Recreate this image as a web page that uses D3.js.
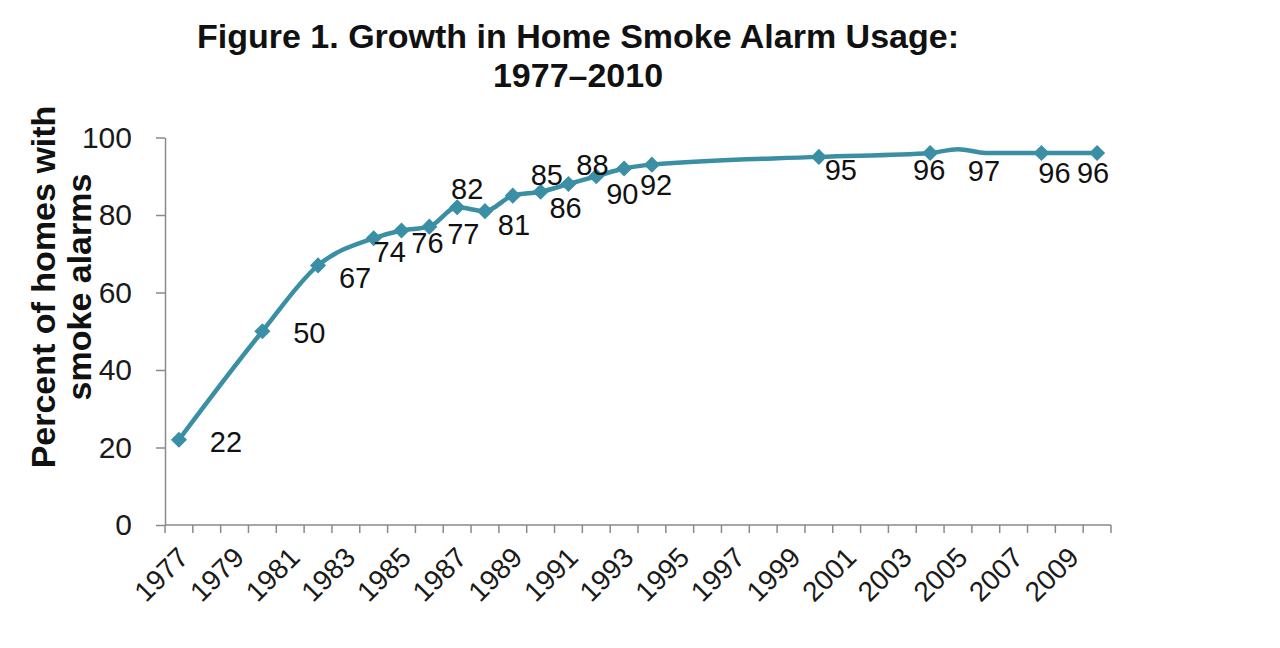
<!DOCTYPE html>
<html>
<head>
<meta charset="utf-8">
<script src="https://cdn.jsdelivr.net/npm/d3@7"></script>
<style>
  body { margin: 0; background: #fff; }
  text { font-family: "Liberation Sans", Arial, sans-serif; }
</style>
</head>
<body>
<div id="main"></div>
<script>
// categories on the x axis (one slot per year)
var categories = [1977,1978,1979,1980,1981,1982,1983,1984,1985,1986,1987,1988,1989,1990,1991,1992,1993,
                  1994,1995,1996,1997,1998,1999,2000,2001,2002,2003,2004,2005,2006,2007,2008,2009,2010];
var tickLabels = [1977,1979,1981,1983,1985,1987,1989,1991,1993,1995,1997,1999,2001,2003,2005,2007,2009];
var yTicks = [0, 20, 40, 60, 80, 100];

// survey years and percent of homes with smoke alarms
var years  = [1977,1980,1982,1984,1985,1986,1987,1988,1989,1990,1991,1992,1993,1994,2000,2004,2005,2006,2008,2010];
var values = [22,  50,  67,  74,  76,  77,  82,  81,  85,  86,  88,  90,  92,  93,  95,  96,  97,  96,  96,  96];
var labelText = ["22","50","67","74","76","77","82","81","85","86","88","90","92",null,"95","96","97",null,"96","96"];
var hasMarker = [1,1,1,1,1,1,1,1,1,1,1,1,1,1,1,1,0,0,1,1];

// hand placed label offsets (px from the marker), like the original slide
var labelShift = [[47,2],[47,1],[37,12],[16,13],[26,12],[34,7],[10,-19],[29,13],[34,-21],[25,16],
                  [24,-19],[26,17],[32,16],[0,0],[22,13],[-1,17],[26,21],[0,0],[13,20],[-4,20]];

var W = 1280, H = 648;
var plotLeft = 165, plotRight = 1111, plotBottom = 525, plotTop = 137.5;
var lineColor = "#3a8fa5";
var axisColor = "#8a8a8a";

var svg = d3.select("#main").append("svg")
    .attr("width", W)
    .attr("height", H);

svg.append("rect").attr("width", W).attr("height", H).attr("fill", "#fff");

var x = d3.scaleBand().domain(categories).range([plotLeft, plotRight]).padding(0);
var y = d3.scaleLinear().domain([0, 100]).range([plotBottom, plotTop]);

function cx(yr) { return x(yr) + x.bandwidth() / 2; }

// title
var title = svg.append("text")
    .attr("text-anchor", "middle")
    .attr("font-size", 34)
    .attr("font-weight", "bold")
    .attr("fill", "#111");
title.append("tspan").attr("x", 578).attr("y", 48).text("Figure 1. Growth in Home Smoke Alarm Usage:");
title.append("tspan").attr("x", 578).attr("y", 87).text("1977\u20132010");

// y axis title
var ytitle = svg.append("text")
    .attr("transform", "translate(0,287) rotate(-90)")
    .attr("text-anchor", "middle")
    .attr("font-size", 34)
    .attr("font-weight", "bold")
    .attr("fill", "#111");
ytitle.append("tspan").attr("x", 0).attr("y", 55).text("Percent of homes with");
ytitle.append("tspan").attr("x", 0).attr("y", 91).text("smoke alarms");

// y axis
var yAxis = svg.append("g")
    .attr("transform", "translate(" + plotLeft + ",0)")
    .call(d3.axisLeft(y).tickValues(yTicks).tickSize(9).tickSizeOuter(0).tickPadding(24));
yAxis.select(".domain").attr("stroke", axisColor).attr("stroke-width", 1.5);
yAxis.selectAll(".tick line").attr("stroke", axisColor).attr("stroke-width", 1.5);
yAxis.selectAll(".tick text")
    .attr("font-size", 30)
    .attr("font-family", "Liberation Sans, Arial, sans-serif")
    .attr("fill", "#1a1a1a");

// x axis line + tick marks on category boundaries
var xg = svg.append("g");
xg.append("line")
    .attr("x1", plotLeft).attr("x2", plotRight)
    .attr("y1", plotBottom).attr("y2", plotBottom)
    .attr("stroke", axisColor).attr("stroke-width", 1.5);
xg.selectAll("line.tk")
    .data(categories.concat(["end"]))
    .enter().append("line")
    .attr("class", "tk")
    .attr("x1", function(d) { return d === "end" ? plotRight : x(d); })
    .attr("x2", function(d) { return d === "end" ? plotRight : x(d); })
    .attr("y1", plotBottom).attr("y2", plotBottom + 8)
    .attr("stroke", axisColor).attr("stroke-width", 1.5);

xg.selectAll("text.xl")
    .data(tickLabels)
    .enter().append("text")
    .attr("class", "xl")
    .attr("transform", function(d) { return "translate(" + (cx(d) - 3) + "," + 545 + ") rotate(-45)"; })
    .attr("text-anchor", "end")
    .attr("dy", "0.72em")
    .attr("font-size", 28)
    .attr("fill", "#1a1a1a")
    .text(function(d) { return d; });

// the series
var pts = years.map(function(yr, i) {
    return {year: yr, value: values[i], label: labelText[i], marker: hasMarker[i], shift: labelShift[i]};
});

var line = d3.line()
    .x(function(d) { return cx(d.year); })
    .y(function(d) { return y(d.value); })
    .curve(d3.curveMonotoneX);

svg.append("path")
    .datum(pts)
    .attr("d", line)
    .attr("fill", "none")
    .attr("stroke", lineColor)
    .attr("stroke-width", 4.5)
    .attr("stroke-linejoin", "round");

svg.selectAll("path.mk")
    .data(pts.filter(function(d) { return d.marker; }))
    .enter().append("path")
    .attr("class", "mk")
    .attr("d", d3.symbol(d3.symbolSquare, 130))
    .attr("transform", function(d) { return "translate(" + cx(d.year) + "," + y(d.value) + ") rotate(45)"; })
    .attr("fill", lineColor);

// data labels
svg.selectAll("text.dl")
    .data(pts.filter(function(d) { return d.label; }))
    .enter().append("text")
    .attr("class", "dl")
    .attr("x", function(d) { return cx(d.year) + d.shift[0]; })
    .attr("y", function(d) { return y(d.value) + d.shift[1]; })
    .attr("dy", "0.36em")
    .attr("text-anchor", "middle")
    .attr("font-size", 29)
    .attr("fill", "#111")
    .text(function(d) { return d.label; });
</script>
</body>
</html>
